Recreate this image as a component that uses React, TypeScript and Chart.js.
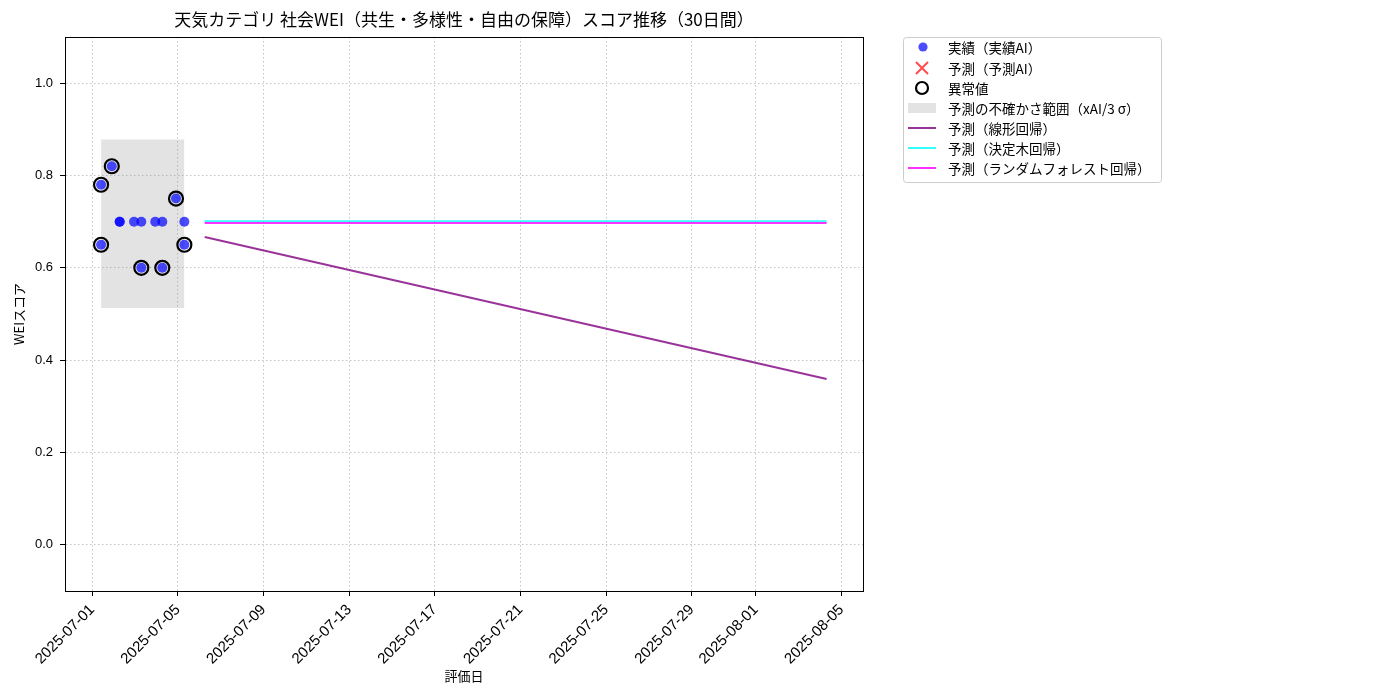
import React, { useEffect, useRef } from 'react';
import { Chart, registerables } from 'chart.js';

Chart.register(...registerables);

const FONT = '"Noto Sans CJK JP", "Noto Sans", sans-serif';
const TICK_FONT = '"Liberation Sans", "Noto Sans CJK JP", sans-serif';

// x values are days since 2025-07-01 00:00
const xTickValues = [0, 4, 8, 12, 16, 20, 24, 28, 31, 35];
const xTickLabels = [
    '2025-07-01', '2025-07-05', '2025-07-09', '2025-07-13', '2025-07-17',
    '2025-07-21', '2025-07-25', '2025-07-29', '2025-08-01', '2025-08-05',
];
const yTickValues = [0, 0.2, 0.4, 0.6, 0.8, 1.0];

const actualDays = [0.41, 0.41, 0.91, 1.28, 1.28, 1.95, 2.29, 2.29, 2.94, 3.27, 3.27, 3.91, 4.30, 4.30];
const actualValues = [0.78, 0.65, 0.82, 0.70, 0.70, 0.70, 0.70, 0.60, 0.70, 0.70, 0.60, 0.75, 0.70, 0.65];

const outlierDays = [0.41, 0.41, 0.91, 2.29, 3.27, 3.91, 4.30];
const outlierValues = [0.78, 0.65, 0.82, 0.60, 0.60, 0.75, 0.65];

const bandDays = [0.41, 4.30];
const bandUpper = [0.878, 0.878];
const bandLower = [0.513, 0.513];

const forecastDays = [5.25, 34.3];
const linearValues = [0.667, 0.359];
const treeValues = [0.701, 0.701];
const forestValues = [0.697, 0.697];

const legendLabels = [
    '実績（実績AI）',
    '予測（予測AI）',
    '異常値',
    '予測の不確かさ範囲（xAI/3 σ）',
    '予測（線形回帰）',
    '予測（決定木回帰）',
    '予測（ランダムフォレスト回帰）',
];

const COL_ACTUAL = 'rgba(0,0,255,0.7)';
const COL_PRED = 'rgba(255,0,0,0.7)';
const COL_BAND = 'rgba(128,128,128,0.22)';
const COL_LINEAR = 'rgba(128,0,128,0.8)';
const COL_TREE = 'rgba(0,255,255,0.8)';
const COL_FOREST = 'rgba(255,0,255,0.8)';

const pts = (xs: number[], ys: number[]) => xs.map((x, i) => ({ x, y: ys[i] }));

const decorPlugin = {
    id: 'decor',
    afterDraw(chart: any) {
        const { ctx, chartArea } = chart;
        const { left, top, right, bottom } = chartArea;
        ctx.save();
        // frame
        ctx.strokeStyle = '#000';
        ctx.lineWidth = 1;
        ctx.setLineDash([]);
        ctx.strokeRect(left + 0.5, top + 0.5, right - left, bottom - top);

        // title
        ctx.fillStyle = '#000';
        ctx.textAlign = 'center';
        ctx.textBaseline = 'middle';
        ctx.font = `17px ${FONT}`;
        ctx.fillText('天気カテゴリ 社会WEI（共生・多様性・自由の保障）スコア推移（30日間）', (left + right) / 2, 20);

        // axis titles
        ctx.font = `13px ${FONT}`;
        ctx.fillText('評価日', (left + right) / 2, 676);
        ctx.save();
        ctx.translate(19, (top + bottom) / 2);
        ctx.rotate(-Math.PI / 2);
        ctx.fillText('WEIスコア', 0, 0);
        ctx.restore();

        // legend
        const lx = 903, ly = 37, lw = 258, lh = 145;
        ctx.beginPath();
        ctx.roundRect(lx + 0.5, ly + 0.5, lw, lh, 3);
        ctx.fillStyle = 'rgba(255,255,255,0.8)';
        ctx.fill();
        ctx.strokeStyle = '#cccccc';
        ctx.lineWidth = 1;
        ctx.stroke();

        const mx = 922;
        const rows = [47, 68, 88, 108, 128, 148, 168];
        // actual dot
        ctx.beginPath();
        ctx.arc(mx + 1, rows[0], 4.6, 0, Math.PI * 2);
        ctx.fillStyle = COL_ACTUAL;
        ctx.fill();
        // predicted x
        ctx.strokeStyle = COL_PRED;
        ctx.lineWidth = 2;
        ctx.beginPath();
        ctx.moveTo(mx - 6, rows[1] - 6);
        ctx.lineTo(mx + 6, rows[1] + 6);
        ctx.moveTo(mx + 6, rows[1] - 6);
        ctx.lineTo(mx - 6, rows[1] + 6);
        ctx.stroke();
        // outlier ring
        ctx.strokeStyle = '#000';
        ctx.lineWidth = 2.2;
        ctx.beginPath();
        ctx.arc(mx, rows[2], 6, 0, Math.PI * 2);
        ctx.stroke();
        // band patch
        ctx.fillStyle = COL_BAND;
        ctx.fillRect(908, rows[3] - 5, 28, 10);
        // lines
        const lineCols = [COL_LINEAR, COL_TREE, COL_FOREST];
        lineCols.forEach((c, i) => {
            ctx.strokeStyle = c;
            ctx.lineWidth = 2;
            ctx.beginPath();
            ctx.moveTo(908, rows[4 + i]);
            ctx.lineTo(936, rows[4 + i]);
            ctx.stroke();
        });
        ctx.fillStyle = '#000';
        ctx.textAlign = 'left';
        ctx.textBaseline = 'middle';
        ctx.font = `13.5px ${FONT}`;
        legendLabels.forEach((t, i) => ctx.fillText(t, 948, rows[i] + 1));
        ctx.restore();
    },
};

const App: React.FC = () => {
    const canvasRef = useRef<HTMLCanvasElement | null>(null);
    const chartRef = useRef<Chart | null>(null);

    useEffect(() => {
        const canvas = canvasRef.current;
        if (!canvas) return;
        if (chartRef.current) chartRef.current.destroy();

        const gridStyle = {
            color: 'rgba(176,176,176,0.9)',
            lineWidth: 0.8,
            tickColor: '#000',
            tickLength: 5,
            tickWidth: 1,
            tickBorderDash: [],
        };
        const borderStyle = { color: '#000', width: 1, dash: [1.5, 2.5] };

        chartRef.current = new Chart(canvas, {
            type: 'scatter',
            data: {
                datasets: [
                    {
                        label: 'band-upper',
                        type: 'line',
                        data: pts(bandDays, bandUpper),
                        showLine: true,
                        borderColor: 'rgba(0,0,0,0)',
                        borderWidth: 0,
                        backgroundColor: COL_BAND,
                        pointRadius: 0,
                        fill: '+1',
                        order: 20,
                    },
                    {
                        label: 'band-lower',
                        type: 'line',
                        data: pts(bandDays, bandLower),
                        showLine: true,
                        borderColor: 'rgba(0,0,0,0)',
                        borderWidth: 0,
                        pointRadius: 0,
                        fill: false,
                        order: 21,
                    },
                    {
                        label: legendLabels[4],
                        type: 'line',
                        data: pts(forecastDays, linearValues),
                        showLine: true,
                        borderColor: COL_LINEAR,
                        borderWidth: 2,
                        pointRadius: 0,
                        fill: false,
                        order: 7,
                    },
                    {
                        label: legendLabels[5],
                        type: 'line',
                        data: pts(forecastDays, treeValues),
                        showLine: true,
                        borderColor: COL_TREE,
                        borderWidth: 2,
                        pointRadius: 0,
                        fill: false,
                        order: 6,
                    },
                    {
                        label: legendLabels[6],
                        type: 'line',
                        data: pts(forecastDays, forestValues),
                        showLine: true,
                        borderColor: COL_FOREST,
                        borderWidth: 2,
                        pointRadius: 0,
                        fill: false,
                        order: 5,
                    },
                    {
                        label: legendLabels[0],
                        data: pts(actualDays, actualValues),
                        backgroundColor: COL_ACTUAL,
                        borderWidth: 0,
                        pointRadius: 5,
                        order: 2,
                    },
                    {
                        label: legendLabels[1],
                        data: [],
                        pointStyle: 'cross',
                        borderColor: COL_PRED,
                        order: 3,
                    },
                    {
                        label: legendLabels[2],
                        data: pts(outlierDays, outlierValues),
                        backgroundColor: 'rgba(0,0,0,0)',
                        borderColor: '#000',
                        borderWidth: 2.2,
                        pointRadius: 7,
                        order: 1,
                    },
                ],
            },
            options: {
                animation: false,
                responsive: true,
                maintainAspectRatio: false,
                layout: { padding: { left: 0, top: 37, right: 537, bottom: 0 } },
                plugins: {
                    legend: { display: false },
                    tooltip: { enabled: false },
                },
                scales: {
                    x: {
                        type: 'linear',
                        min: -1.275,
                        max: 36.0,
                        afterBuildTicks: (scale: any) => {
                            scale.ticks = xTickValues.map((v) => ({ value: v }));
                        },
                        afterFit: (scale: any) => {
                            scale.height = 109;
                        },
                        ticks: {
                            autoSkip: false,
                            minRotation: 45,
                            maxRotation: 45,
                            padding: 5,
                            color: '#000',
                            font: { family: TICK_FONT, size: 15 },
                            callback: (_v: any, i: number) => xTickLabels[i],
                        },
                        grid: gridStyle,
                        border: borderStyle,
                    },
                    y: {
                        type: 'linear',
                        min: -0.1,
                        max: 1.1,
                        afterBuildTicks: (scale: any) => {
                            scale.ticks = yTickValues.map((v) => ({ value: v }));
                        },
                        afterFit: (scale: any) => {
                            scale.width = 65;
                        },
                        ticks: {
                            padding: 7,
                            color: '#000',
                            font: { family: TICK_FONT, size: 13 },
                            callback: (v: any) => Number(v).toFixed(1),
                        },
                        grid: gridStyle,
                        border: borderStyle,
                    },
                },
            },
            plugins: [decorPlugin],
        } as any);

        return () => {
            if (chartRef.current) {
                chartRef.current.destroy();
                chartRef.current = null;
            }
        };
    }, []);

    return (
        <div style={{ position: 'fixed', left: 0, top: 0, width: 1400, height: 700, background: '#fff' }}>
            <canvas ref={canvasRef} />
        </div>
    );
};

export default App;
